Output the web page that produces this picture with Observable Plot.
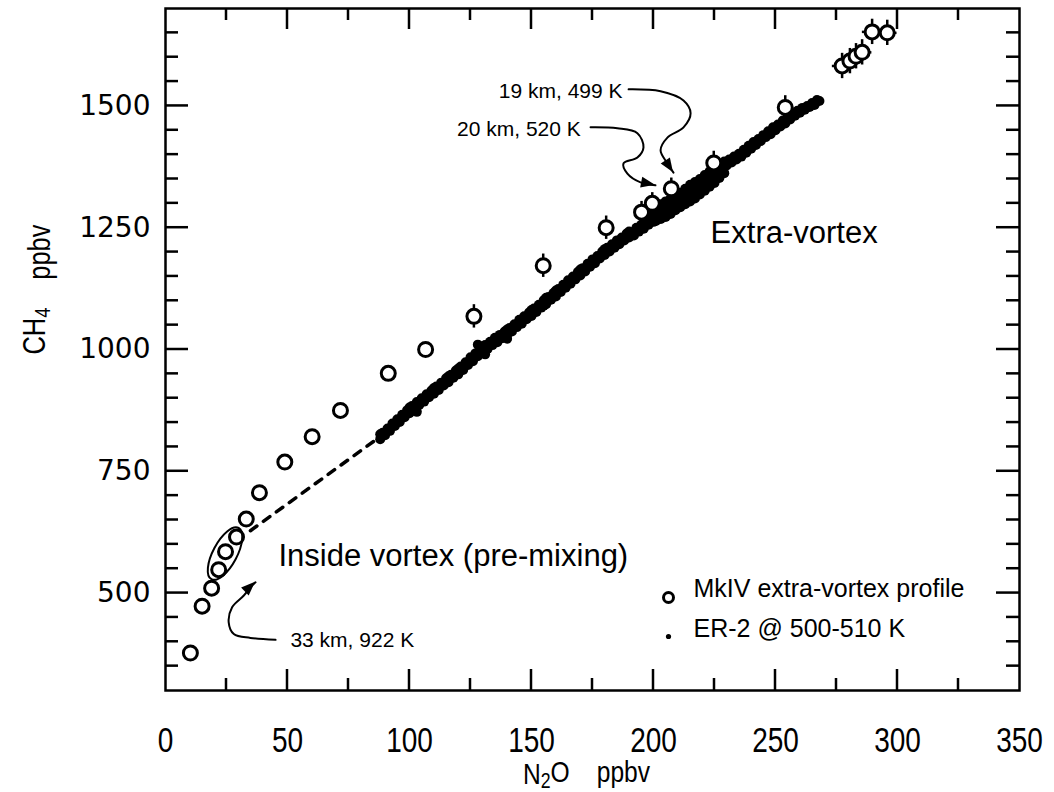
<!DOCTYPE html>
<html><head><meta charset="utf-8">
<script src="https://cdn.jsdelivr.net/npm/d3@7"></script>
<script src="https://cdn.jsdelivr.net/npm/@observablehq/plot@0.6"></script>
<style>body{margin:0;background:#fff}</style>
</head><body><div id="chart"></div>
<script>
// ---- axis ticks ----
const xTickLabels = [0, 50, 100, 150, 200, 250, 300, 350];
const xMinorTicks = [25, 75, 125, 175, 225, 275, 325];
const yTickLabels = [500, 750, 1000, 1250, 1500];
const yMinorTicks = [350, 400, 450, 550, 600, 650, 700, 800, 850, 900, 950, 1050, 1100, 1150, 1200, 1300, 1350, 1400, 1450, 1550, 1600, 1650];

// ---- MkIV extra-vortex profile (open circles) ----
const mkivN2O = [10.2, 15.0, 18.9, 21.8, 24.6, 29.1, 33.1, 38.5, 48.9, 60.1, 71.7, 91.3, 106.6, 126.4, 154.8, 180.6, 195.1, 199.5, 207.3, 224.7, 254.0, 277.3, 280.5, 283.0, 285.5, 289.6, 295.8];
const mkivCH4 = [377, 473, 510, 548, 585, 615, 652, 706, 769, 821, 875, 951, 1000, 1068, 1172, 1250, 1282, 1300, 1330, 1383, 1497, 1582, 1592, 1602, 1610, 1652, 1650];
const mkivErrCH4 = [0, 0, 0, 0, 0, 0, 0, 0, 0, 0, 0, 0, 0, 24, 24, 24, 22, 22, 22, 24, 24, 26, 26, 26, 26, 26, 26];
const mkivErrN2O = [0, 0, 0, 0, 0, 0, 0, 0, 0, 0, 0, 0, 0, 0, 0, 0, 0, 0, 0, 0, 0, 4, 4, 4, 4, 4, 4];

// ---- ER-2 @ 500-510 K (small filled dots) [N2O, CH4] ----
const er2Points = [
  [88,816],[88,826],[89,829],[90,824],[91,838],[92,833],[93,848],[94,843],[95,857],[96,851],[97,866],[98,861],[99,875],[100,869],[100,881],
  [101,884],[102,878],[103,892],[103,872],[104,886],[105,900],[106,893],[107,908],[108,902],[109,916],[110,909],[110,921],
  [111,924],[112,917],[113,932],[114,926],[115,941],[116,933],[116,945],[117,948],[118,942],[119,957],[120,949],[120,961],
  [121,965],[122,958],[123,974],[124,968],[125,984],[126,976],[127,992],[128,986],[128,1010],[129,1001],[130,994],[130,1006],
  [131,1009],[131,990],[132,1001],[133,1016],[134,1009],[135,1024],[136,1015],[137,1030],[138,1023],[139,1037],[140,1029],[140,1041],[140,1022],
  [141,1044],[142,1037],[143,1052],[144,1046],[145,1061],[146,1053],[147,1068],[148,1062],[149,1076],[150,1069],[150,1081],
  [151,1084],[152,1077],[153,1092],[154,1086],[155,1101],[155,1090],[156,1093],[156,1106],[157,1108],[158,1102],[159,1116],[160,1109],[160,1121],
  [161,1124],[162,1118],[163,1133],[164,1127],[165,1142],[166,1135],[167,1150],[168,1144],[169,1159],[170,1152],[170,1164],
  [171,1167],[172,1160],[173,1176],[174,1170],[175,1185],[176,1177],[177,1192],[178,1187],[179,1201],[180,1194],[180,1206],
  [181,1209],[182,1201],[183,1216],[184,1209],[185,1224],[186,1216],[187,1230],[188,1224],[189,1238],[190,1230],[190,1242],
  [191,1240],[192,1234],[193,1250],[194,1242],[195,1256],[196,1248],[197,1264],[198,1256],[199,1272],[200,1262],[200,1282],
  [201,1294],[201,1264],[202,1280],[203,1298],[203,1268],[204,1284],[205,1304],[205,1272],[206,1290],[207,1310],[207,1278],[208,1296],
  [209,1316],[209,1286],[210,1302],[211,1322],[211,1292],[212,1308],[213,1330],[213,1298],[214,1314],[215,1338],[215,1304],[216,1322],
  [217,1344],[217,1310],[218,1330],[219,1350],[219,1318],[220,1336],[221,1358],[221,1326],[222,1344],[223,1366],[223,1334],[224,1350],
  [225,1374],[225,1342],[226,1360],[227,1380],[227,1352],[228,1368],[229,1386],[229,1362],
  [230,1378],[231,1390],[232,1384],[233,1396],[234,1390],[235,1402],[236,1396],[237,1410],[238,1404],[239,1418],[240,1412],
  [241,1426],[242,1420],[243,1432],[244,1428],[245,1440],[246,1436],[247,1448],[248,1442],[249,1456],[250,1450],
  [251,1462],[252,1458],[253,1470],[254,1464],[255,1478],[256,1472],[257,1484],[258,1480],[259,1490],[260,1486],
  [261,1496],[262,1492],[263,1500],[264,1498],[265,1506],[266,1502],[267,1512],[268,1510]
];

// ---- dashed extrapolation ----
const dashedN2O = [34.8, 88.5];
const dashedCH4 = [628, 823];

// ---- annotation arrows [N2O, CH4] ----
const arrow19 = [[189.8,1534],[202.9,1530],[212.3,1511],[215.2,1485],[212.3,1456],[205.7,1435],[202.9,1409],[205.7,1382],[208.2,1363]];
const arrow20 = [[174.2,1456],[185.2,1454],[193.4,1444],[195.9,1415],[193.4,1394],[187.7,1382],[189.3,1361],[194.7,1343],[200.8,1337]];
const arrow33 = [[45.1,404],[34.8,408],[28.0,416],[25.9,440],[27.3,471],[32.1,495],[34.8,512],[36.9,522]];

// ---- annotation texts ----
const smallNotes = ["19 km, 499 K", "20 km, 520 K", "33 km, 922 K"];
const smallNoteN2O = [136.6, 119.5, 51.2];
const smallNoteCH4 = [1531, 1453, 403];
const bigNotes = ["Extra-vortex", "Inside vortex (pre-mixing)"];
const bigNoteN2O = [223.4, 46.3];
const bigNoteCH4 = [1240, 575];

// ellipse around the pre-mixing points
const ellipseN2O = [24.6];
const ellipseCH4 = [580];

const legendLabels = ["MkIV extra-vortex profile", "ER-2 @ 500-510 K"];

const mkiv = mkivN2O.map((x, i) => ({x, y: mkivCH4[i], ey: mkivErrCH4[i], ex: mkivErrN2O[i]}));
const er2 = er2Points.map(([x, y]) => ({x, y}));
const dashed = dashedN2O.map((x, i) => ({x, y: dashedCH4[i]}));

const helv = "'Liberation Sans', Arial, sans-serif";

function inwardTicks(index, {x, y}, values, dims) {
  const g = d3.create("svg:g").attr("stroke", "#000").attr("stroke-width", 2.5);
  const L = dims.marginLeft, R = dims.width - dims.marginRight;
  const T = dims.marginTop, B = dims.height - dims.marginBottom;
  const xs = [...xTickLabels.map(v => [v, 21]), ...xMinorTicks.map(v => [v, 12])];
  for (const [v, len] of xs) {
    const px = x(v);
    if (px <= L + 1 || px >= R - 1) continue;
    g.append("line").attr("x1", px).attr("x2", px).attr("y1", B).attr("y2", B - len);
    g.append("line").attr("x1", px).attr("x2", px).attr("y1", T).attr("y2", T + len);
  }
  const ys = [...yTickLabels.map(v => [v, 23]), ...yMinorTicks.map(v => [v, 13])];
  for (const [v, len] of ys) {
    const py = y(v);
    g.append("line").attr("y1", py).attr("y2", py).attr("x1", L).attr("x2", L + len);
    g.append("line").attr("y1", py).attr("y2", py).attr("x1", R).attr("x2", R - len);
  }
  return g.node();
}

function ellipseMark(index, {x, y}) {
  const g = d3.create("svg:g");
  ellipseN2O.forEach((cx, i) => {
    const px = x(cx), py = y(ellipseCH4[i]);
    g.append("ellipse").attr("cx", 0).attr("cy", 0).attr("rx", 29).attr("ry", 12)
      .attr("transform", `translate(${px},${py}) rotate(-62)`)
      .attr("fill", "none").attr("stroke", "#000").attr("stroke-width", 2);
  });
  return g.node();
}

function arrowHeads(index, {x, y}) {
  const g = d3.create("svg:g").attr("fill", "#000");
  for (const path of [arrow19, arrow20, arrow33]) {
    const a = path[path.length - 2], b = path[path.length - 1];
    const x0 = x(a[0]), y0 = y(a[1]), x1 = x(b[0]), y1 = y(b[1]);
    const ang = Math.atan2(y1 - y0, x1 - x0) * 180 / Math.PI;
    g.append("path").attr("d", "M0,0L-14,-5.5L-14,5.5Z")
      .attr("transform", `translate(${x1},${y1}) rotate(${ang})`);
  }
  return g.node();
}

const chart = Plot.plot({
  width: 1054,
  height: 792,
  marginLeft: 165,
  marginRight: 35,
  marginTop: 8,
  marginBottom: 102,
  style: {background: "#fff", color: "#000"},
  x: {domain: [0, 350], axis: null},
  y: {domain: [300, 1700], axis: null},
  marks: [
    Plot.axisX(xTickLabels, {anchor: "bottom", tickSize: 0, tickPadding: 37, fontSize: 36, label: null, tickFormat: d => String(d)}),
    Plot.axisY(yTickLabels, {anchor: "left", tickSize: 0, tickPadding: 15, fontSize: 28, label: null, tickFormat: d => String(d)}),
    inwardTicks,
    Plot.frame({stroke: "#000", strokeWidth: 2.5}),
    Plot.line(dashed, {x: "x", y: "y", stroke: "#000", strokeWidth: 3.5, strokeDasharray: "8,8"}),
    Plot.dot(er2, {x: "x", y: "y", r: 5, fill: "#000", stroke: "none"}),
    Plot.ruleX(mkiv.filter(d => d.ey > 0), {x: "x", y1: d => d.y - d.ey, y2: d => d.y + d.ey, stroke: "#000", strokeWidth: 2.5}),
    Plot.ruleY(mkiv.filter(d => d.ex > 0), {y: "y", x1: d => d.x - d.ex, x2: d => d.x + d.ex, stroke: "#000", strokeWidth: 2.5}),
    Plot.dot(mkiv, {x: "x", y: "y", r: 7, fill: "#fff", stroke: "#000", strokeWidth: 3}),
    ellipseMark,
    Plot.line(arrow19, {x: d => d[0], y: d => d[1], curve: "catmull-rom", stroke: "#000", strokeWidth: 2}),
    Plot.line(arrow20, {x: d => d[0], y: d => d[1], curve: "catmull-rom", stroke: "#000", strokeWidth: 2}),
    Plot.line(arrow33, {x: d => d[0], y: d => d[1], curve: "catmull-rom", stroke: "#000", strokeWidth: 2}),
    arrowHeads,
    Plot.text(smallNotes, {x: (d, i) => smallNoteN2O[i], y: (d, i) => smallNoteCH4[i], text: d => d, textAnchor: "start", fontSize: 21, fontFamily: helv, fill: "#000"}),
    Plot.text(bigNotes, {x: (d, i) => bigNoteN2O[i], y: (d, i) => bigNoteCH4[i], text: d => d, textAnchor: "start", fontSize: 31, fontFamily: helv, fill: "#000"}),
    // legend
    Plot.dot([legendLabels[0]], {frameAnchor: "bottom-right", dx: -351, dy: -93, r: 5, fill: "#fff", stroke: "#000", strokeWidth: 3}),
    Plot.dot([legendLabels[1]], {frameAnchor: "bottom-right", dx: -351, dy: -54, r: 2.6, fill: "#000"}),
    Plot.text([legendLabels[0]], {frameAnchor: "bottom-right", dx: -326, dy: -94, text: d => d, textAnchor: "start", fontSize: 25, fontFamily: helv, fill: "#000"}),
    Plot.text([legendLabels[1]], {frameAnchor: "bottom-right", dx: -326, dy: -54, text: d => d, textAnchor: "start", fontSize: 25, fontFamily: helv, fill: "#000"}),
    // axis titles
    Plot.text(["N2O ppbv"], {frameAnchor: "bottom", dx: -6, dy: 93, text: d => d, fontSize: 30, fontFamily: helv, fill: "#000"}),
    Plot.text(["CH4 ppbv"], {frameAnchor: "left", dx: -130, dy: 5, rotate: -90, text: d => d, fontSize: 31, fontFamily: helv, fill: "#000"})
  ]
});

const svg = d3.select(chart);
// tick label fonts: wide digits on y, condensed digits on x
svg.selectAll('g[aria-label="y-axis tick label"] text')
  .style("font-family", "'DejaVu Sans', sans-serif").style("font-size", "28px");
svg.selectAll('g[aria-label="x-axis tick label"] text').each(function() {
  const s = d3.select(this);
  s.style("font-family", helv).style("font-size", "35px");
  s.attr("transform", (s.attr("transform") || "") + " scale(0.8,1)");
});

// subscripts in axis titles (condensed, like the original)
svg.selectAll("text").each(function() {
  const t = this.textContent;
  const m = t === "N2O ppbv" ? ["N", "2", "O"] : t === "CH4 ppbv" ? ["CH", "4", ""] : null;
  if (!m) return;
  const s = d3.select(this);
  s.attr("transform", (s.attr("transform") || "") + " scale(0.82,1)");
  s.text(null);
  s.append("tspan").text(m[0]);
  s.append("tspan").attr("dy", "0.2em").attr("font-size", "0.72em").text(m[1]);
  s.append("tspan").attr("dy", "-0.2em").text(m[2]);
  s.append("tspan").attr("dx", "1.1em").text("ppbv");
});

document.getElementById("chart").appendChild(chart);
</script>
</body></html>
